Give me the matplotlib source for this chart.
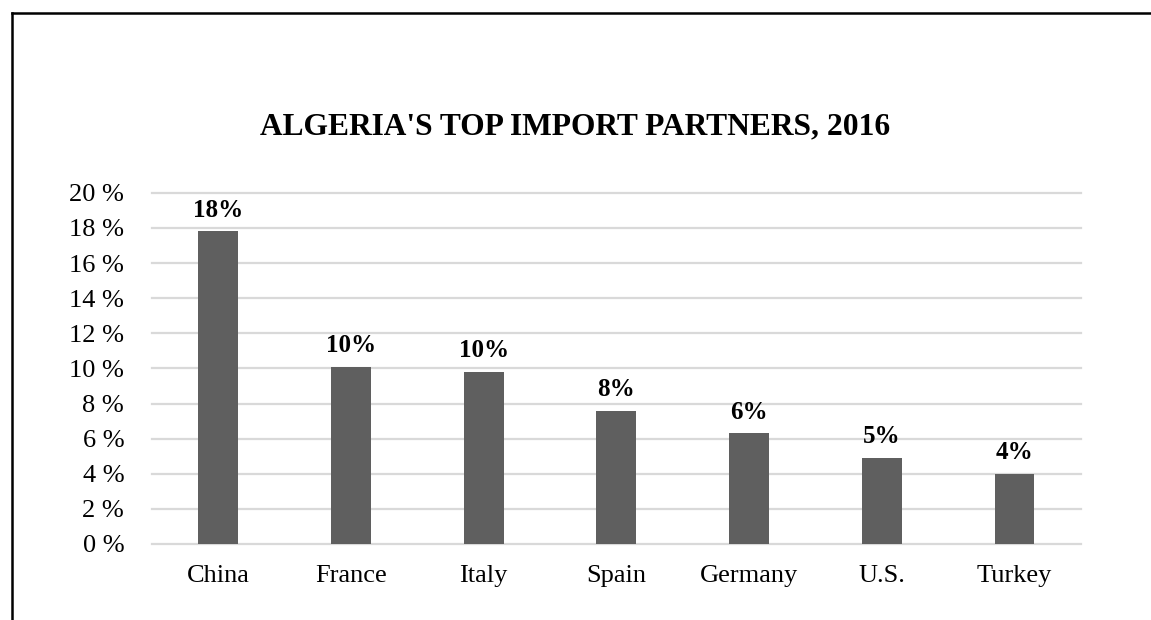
import matplotlib.pyplot as plt
from matplotlib.lines import Line2D
from matplotlib.ticker import FuncFormatter

countries = ['China', 'France', 'Italy', 'Spain', 'Germany', 'U.S.', 'Turkey']
shares = [0.178, 0.101, 0.098, 0.076, 0.063, 0.049, 0.040]
labels = ['18%', '10%', '10%', '8%', '6%', '5%', '4%']

plt.rcParams['font.family'] = ['Liberation Serif', 'DejaVu Serif']

fig = plt.figure(figsize=(11.51, 6.20), dpi=100)
ax = fig.add_axes([0.132, 0.1226, 0.807, 0.5664])

x = range(len(countries))
bars = ax.bar(x, shares, width=0.30, color='#5f5f5f', zorder=3)

# value labels above each bar
for b, lab in zip(bars, labels):
    ax.annotate(lab, (b.get_x() + b.get_width() / 2, b.get_height()),
                xytext=(0, 7), textcoords='offset points',
                ha='center', va='bottom', fontsize=18, fontweight='bold')

ax.set_xlim(-0.5, len(countries) - 0.5)
ax.set_ylim(0, 0.20)
ax.set_yticks([i / 100 for i in range(0, 21, 2)])
ax.yaxis.set_major_formatter(FuncFormatter(lambda v, p: '%d %%' % round(v * 100)))
ax.set_xticks(list(x))
ax.set_xticklabels(countries)
ax.tick_params(axis='both', length=0, labelsize=19)
ax.tick_params(axis='x', pad=15)
ax.tick_params(axis='y', pad=20)

ax.grid(axis='y', color='#d9d9d9', linewidth=1.6, zorder=0)
for gl in ax.get_ygridlines():
    gl.set_clip_on(False)
for s in ax.spines.values():
    s.set_visible(False)

fig.text(0.5, 0.795, "ALGERIA'S TOP IMPORT PARTNERS, 2016",
         ha='center', va='center', fontsize=22.7, fontweight='bold')

# frame lines on top and left of the chart
fig.add_artist(Line2D([0.0105, 1.0], [0.979, 0.979], color='black', linewidth=1.8))
fig.add_artist(Line2D([0.0105, 0.0105], [0.0, 0.979], color='black', linewidth=1.8))

fig.savefig('out.png', dpi=100)
